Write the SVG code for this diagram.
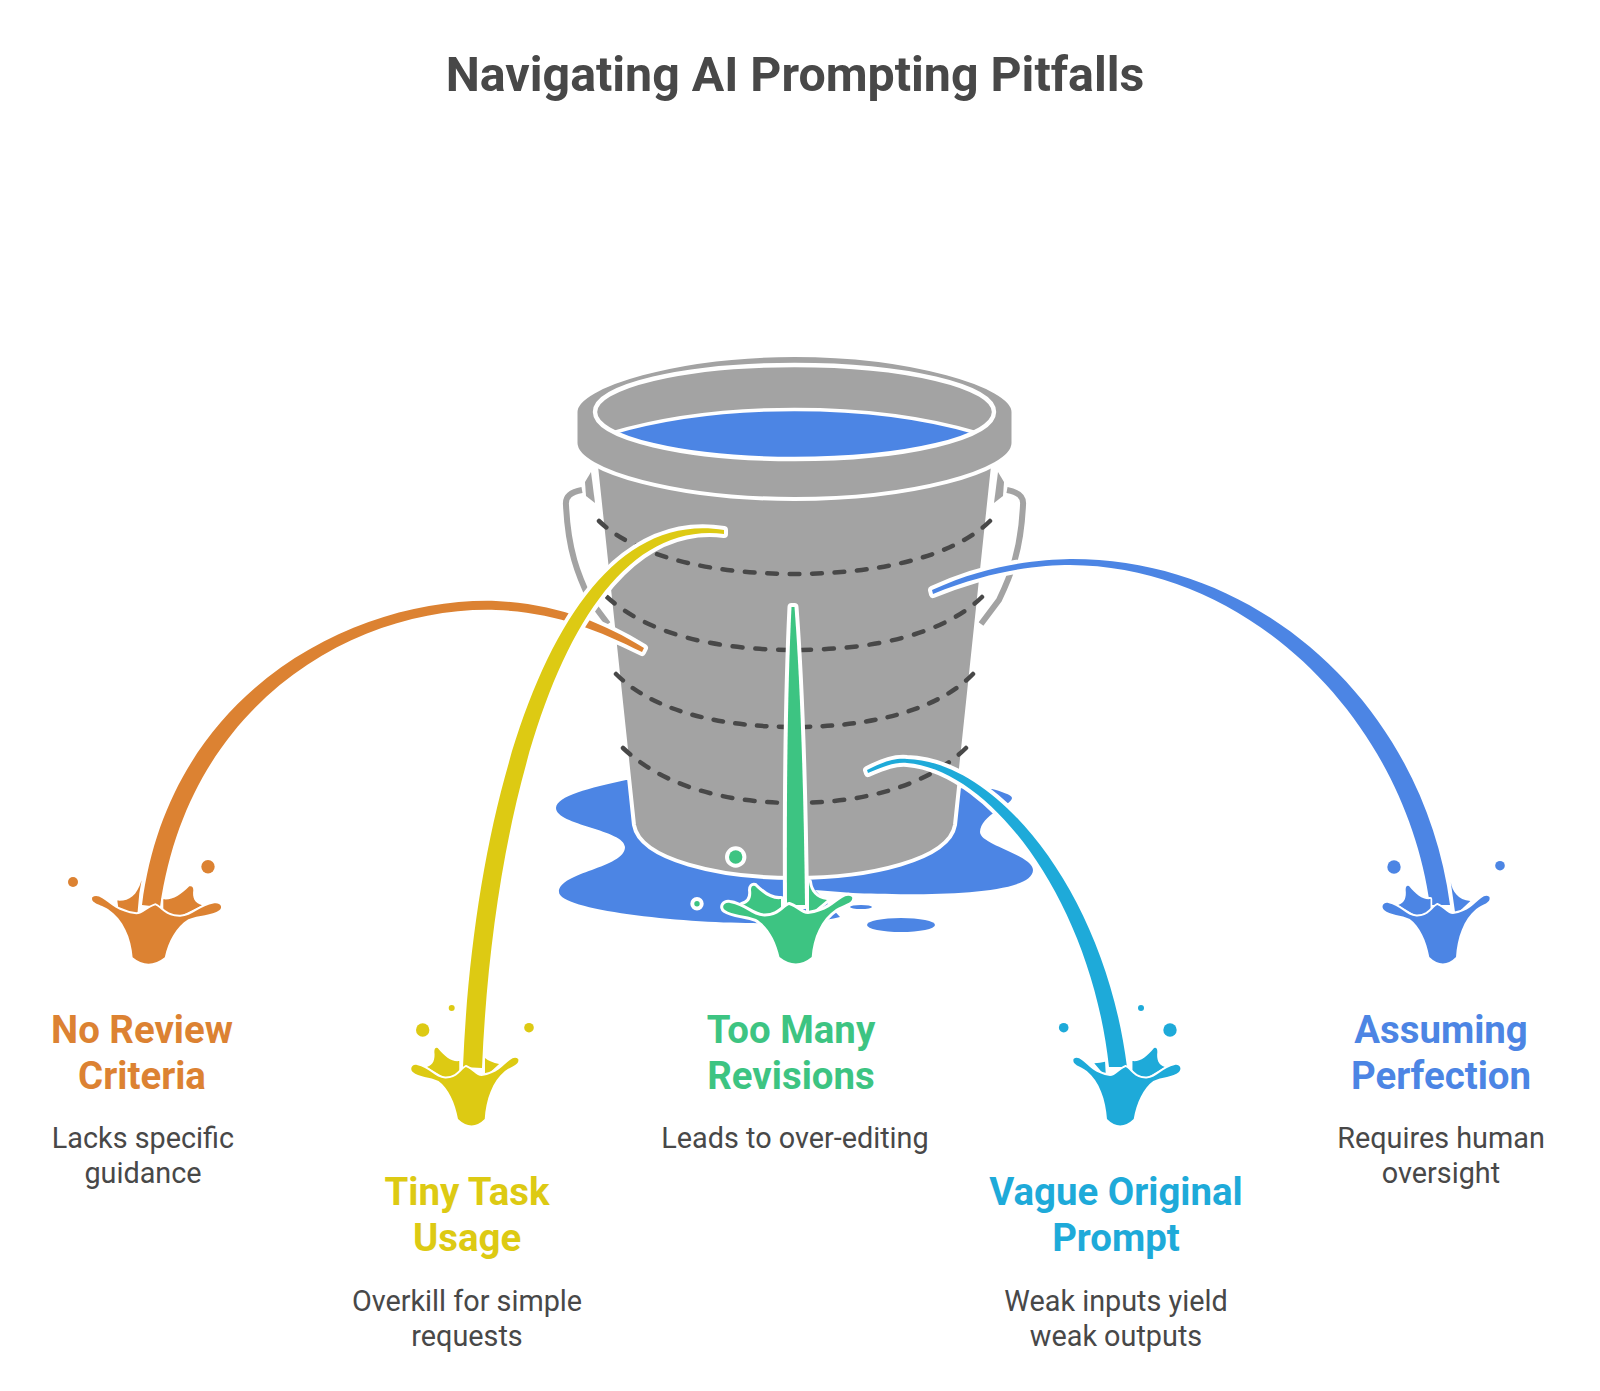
<svg xmlns="http://www.w3.org/2000/svg" width="1600" height="1391" viewBox="0 0 1600 1391">
<style>
text{font-family:Roboto,"Liberation Sans",sans-serif;text-anchor:middle}
.title{font-size:48.3px;font-weight:700;fill:#484848}
.label{font-size:38.4px;font-weight:700}
.desc{font-size:28.8px;fill:#484848}
.band{fill:none;stroke:#484848;stroke-width:4.5;stroke-dasharray:10 13;stroke-linecap:round}
.gray{fill:#a3a3a3;stroke:#fff;stroke-width:4}
.handle{fill:none;stroke:#a3a3a3;stroke-width:6}
.flow{stroke:#fff;stroke-width:8;stroke-linejoin:round;paint-order:stroke}
.cup{stroke:#fff;stroke-width:4;stroke-linejoin:round;paint-order:stroke;vector-effect:non-scaling-stroke}
.orange{fill:#dc8232}.yellow{fill:#ddca13}.green{fill:#3dc482}.teal{fill:#1eaad9}.blue{fill:#4c85e4}
</style>
<defs>
<path id="cup" d="M-56,-66 Q-52,-69 -46,-65 C-38,-60 -30,-51 -12,-49 C-6,-49 0,-56 7,-58 C12,-56 18,-46 32,-46.5 C44,-47 52,-58 66,-60 C72,-61 75,-56 71,-53 C64,-48 50,-48 40,-44 C28,-37 20,-22 16.5,-6 Q0,7 -15.7,-6 C-17,-25 -25,-44 -40,-54 C-48,-59 -58,-60 -56,-66Z"/>
<path id="petal" d="M15,-64 C24,-63 32,-68 41,-77 Q45,-78 45,-73 C44,-66 46,-60 54,-58 L30,-46 L15,-52Z"/>
<clipPath id="inner"><ellipse cx="794.5" cy="412" rx="199.5" ry="47"/></clipPath>
</defs>
<text class="title" x="795" y="91">Navigating AI Prompting Pitfalls</text>
<g id="bucket">
<path class="blue" d="M626,780 C590,788 556,796 556,808 C556,825 625,830 625,847 C625,868 559,872 559,892 C559,910 680,923 753,923 C790,924 820,922 840,917 L815,890 L853,893 C900,895 1033,898 1033,870 C1033,855 980,845 980,832 C980,815 1012,805 1012,798 C1012,795 1000,791 992,789 Z"/>
<ellipse class="blue" cx="901" cy="925" rx="34" ry="7"/>
<ellipse class="blue" cx="861" cy="907" rx="11" ry="2"/>
<path class="handle" d="M582,490 C571,492 565,496 566,505 C568,550 578,575 590,600 L608,624"/>
<path class="handle" d="M1007,490 C1018,492 1024,496 1023,505 C1021,550 1011,575 999,600 L981,624"/>
<path fill="#a3a3a3" d="M585,482 L591,472 L595,503 L586,496Z"/>
<path fill="#a3a3a3" d="M1004,482 L998,472 L994,503 L1003,496Z"/>
<path class="gray" d="M596,466 L634,825 C640,860 720,878 794.5,878 C869,878 949,860 955,825 L993,466 Z"/>
<path class="band" pathLength="424" d="M599,521 C640,560 720,574 794.5,574 C869,574 950,560 990,521"/>
<path class="band" pathLength="401" d="M607,597 C650,636 720,650 794.5,650 C869,650 942,636 982,597"/>
<path class="band" pathLength="401" d="M616,674 C655,713 725,727 794.5,727 C864,727 935,713 973,674"/>
<path class="band" pathLength="378" d="M623,748 C665,788 730,803 794.5,803 C859,803 925,788 966,748"/>
<path class="gray" d="M575.5,412 C575.5,385 680,355 794.5,355 C909,355 1013.5,385 1013.5,412 L1013.5,443 C1013.5,472 909,499 794.5,499 C680,499 575.5,472 575.5,443Z"/>
<ellipse cx="794.5" cy="412" rx="199.5" ry="47" fill="#a3a3a3"/>
<path class="blue" stroke="#fff" stroke-width="3.5" clip-path="url(#inner)" d="M612,433 C670,416 730,409.5 794.5,409.5 C860,409.5 920,416 977,433 A199.5,47 0 0 1 612,433Z"/>
<ellipse cx="794.5" cy="412" rx="199.5" ry="47" fill="none" stroke="#fff" stroke-width="4.4"/>
</g>
<g id="connectors">
<path class="flow orange" d="M142,905 C170,686 360,597 496,601 C556,604 602,622 644,648 L642,652 C596,629 553,612 496,610 C362,606 190,696 160,907Z"/>
<path class="flow yellow" d="M463,1067 C474,795 558,503 724,530 L724,534 C568,515 493,805 482,1068Z"/>
<path class="flow green" d="M791.5,607 Q786,720 787,905 L805,905 Q803,720 794.5,607Z"/>
<path class="flow teal" d="M867,770 C885,761 895,758 907,759 C997,761 1105,892 1127,1067 L1109,1067 C1091,902 992,770 907,763 C895,762 885,766 868,773Z"/>
<path class="flow blue" d="M932,590 C990,563 1040,560 1070,559 C1262,558 1424,708 1450,905 L1430,905 C1404,718 1248,566 1070,565 C1040,565 992,570 933,594Z"/>
</g>
<g id="node-no-review">
<g class="orange" transform="translate(148.3,963.3)">
<use class="cup" href="#petal"/>
<path class="cup" d="M-31,-62.7 C-20,-62 -12,-66 -6.7,-83 L-9,-70 L-11,-48 L-30,-55Z"/>
<use class="cup" href="#cup"/>
</g>
<circle class="orange" cx="208" cy="866.7" r="6.7"/><circle class="orange" cx="73" cy="882" r="5"/>
<text class="label orange" x="142" y="1043">No Review</text>
<text class="label orange" x="142" y="1089">Criteria</text>
<text class="desc" x="143" y="1148">Lacks specific</text>
<text class="desc" x="143" y="1182.6">guidance</text>
</g>
<g id="node-tiny-task">
<g class="yellow" transform="translate(471.7,1125) scale(-0.83,1)">
<use class="cup" href="#petal"/>
<path class="cup" d="M-16,-67 Q-22,-63 -33,-61 L-16,-48Z"/>
<use class="cup" href="#cup"/>
</g>
<circle class="yellow" cx="422.7" cy="1030" r="6.7"/><circle class="yellow" cx="529" cy="1027.7" r="4.8"/><circle class="yellow" cx="451.7" cy="1008" r="3"/>
<text class="label yellow" x="467" y="1205">Tiny Task</text>
<text class="label yellow" x="467" y="1251">Usage</text>
<text class="desc" x="467" y="1311">Overkill for simple</text>
<text class="desc" x="467" y="1345.6">requests</text>
</g>
<g id="node-too-many">
<g class="green" transform="translate(796,963) scale(-1,1)">
<use class="cup" style="stroke-width:6" href="#petal"/>
<path class="cup" style="stroke-width:6" d="M-13,-81 C-14,-72 -20,-64 -31,-63 L-13,-48Z"/>
<use class="cup" style="stroke-width:6" href="#cup"/>
</g>
<circle class="green" cx="735.7" cy="857" r="6.7" stroke="#fff" stroke-width="8" paint-order="stroke"/>
<circle class="green" cx="697" cy="903.7" r="2.7" stroke="#fff" stroke-width="8" paint-order="stroke"/>
<text class="label green" x="791" y="1043">Too Many</text>
<text class="label green" x="791" y="1089">Revisions</text>
<text class="desc" x="795" y="1148">Leads to over-editing</text>
</g>
<g id="node-vague">
<g class="teal" transform="translate(1120,1125) scale(0.83,1)">
<use class="cup" href="#petal"/>
<path class="cup" d="M-18,-63.3 Q-24,-62 -31,-61.7 L-17,-48Z"/>
<use class="cup" href="#cup"/>
</g>
<circle class="teal" cx="1063.7" cy="1027.7" r="4.8"/><circle class="teal" cx="1170" cy="1030" r="6.7"/><circle class="teal" cx="1141" cy="1008" r="3"/>
<text class="label teal" x="1116" y="1205">Vague Original</text>
<text class="label teal" x="1116" y="1251">Prompt</text>
<text class="desc" x="1116" y="1311">Weak inputs yield</text>
<text class="desc" x="1116" y="1345.6">weak outputs</text>
</g>
<g id="node-assuming">
<g class="blue" transform="translate(1443,963) scale(-0.83,1)">
<use class="cup" href="#petal"/>
<path class="cup" d="M-9.3,-81 C-11,-72 -18,-63 -33,-62 L-15,-48Z"/>
<use class="cup" href="#cup"/>
</g>
<circle class="blue" cx="1394" cy="867" r="6.7"/><circle class="blue" cx="1500" cy="865.7" r="4.8"/>
<text class="label blue" x="1441" y="1043">Assuming</text>
<text class="label blue" x="1441" y="1089">Perfection</text>
<text class="desc" x="1441" y="1148">Requires human</text>
<text class="desc" x="1441" y="1182.6">oversight</text>
</g>
</svg>
